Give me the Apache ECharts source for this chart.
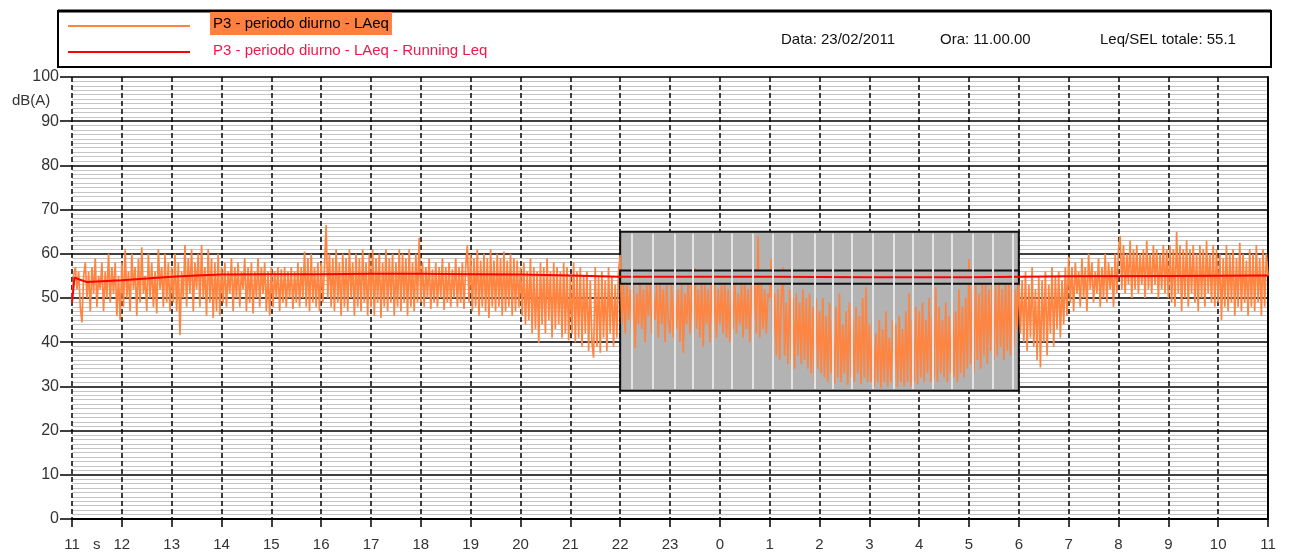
<!DOCTYPE html>
<html>
<head>
<meta charset="utf-8">
<script src="https://cdn.jsdelivr.net/npm/echarts@6/dist/echarts.min.js"></script>
<style>
  html, body { margin: 0; padding: 0; background: #fff; }
  #chart { width: 1292px; height: 553px; }
</style>
</head>
<body>
<div id="chart"></div>
<script>
// tick labels on the time axis (hours since 11:00)
const hourLabels = ['11', '12', '13', '14', '15', '16', '17', '18', '19', '20', '21', '22',
  '23', '0', '1', '2', '3', '4', '5', '6', '7', '8', '9', '10', '11']

// LAeq samples, one every 2 minutes from 11:00 (dB(A)), one row per hour
const laeqStepMin = 2
const laeq = [
  49, 55, 57, 52, 56, 48, 44.5, 55, 58, 50, 56, 47, 57, 51, 59, 48, 55, 52, 58, 47, 56, 50, 60, 49, 57, 51, 58, 46, 55, 45,
  58, 48, 61, 50, 56, 47, 60, 52, 57, 46, 59, 49, 61.5, 51, 55, 47, 60, 50, 58, 48, 56, 46.5, 61, 52, 57, 48, 60, 49, 58, 47,
  57, 49, 60, 47, 58, 41.6, 56, 50, 62, 48, 59, 51, 61, 47, 58, 52, 60, 48, 62, 50, 57, 46, 61, 49, 59, 45.5, 58, 47, 60, 46,
  57, 49, 58, 48, 56, 51, 59, 47, 57, 50, 58, 48, 56, 52, 59, 47, 57, 49, 58, 46.5, 56, 50, 59, 48, 57, 51, 58, 47, 56, 46,
  57, 48, 56, 50, 57, 47, 56.5, 49, 57, 48, 56, 50, 57, 47.5, 56, 49, 58, 48, 57, 50, 60.5, 48, 59, 47, 60, 49, 57, 48, 58, 47,
  58, 49, 57, 66.5, 50, 60, 48, 59, 47, 61, 49, 58, 46, 60, 48, 59, 47, 61, 50, 58, 46, 60, 48, 59, 47, 61, 49, 58, 46, 60,
  48, 61, 46, 59, 49, 60, 45.5, 58, 48, 61, 47, 59, 49, 60, 46, 58, 48, 61, 47, 60, 49, 59, 46, 61, 48, 58, 47, 60, 49, 63.6,
  49, 58, 48, 57, 50, 59, 47.5, 56.5, 49, 58, 48, 57, 50, 59, 47.3, 57, 49, 58, 48, 56.5, 50, 59, 48, 57, 49, 58, 47.5, 57, 62, 49,
  60, 47, 59, 48, 61, 46, 58.5, 48, 60, 47, 59, 45.5, 61, 48, 58.5, 47, 60, 48, 59, 46, 60.5, 47, 58.5, 48, 60, 46, 59, 47, 58.5, 48,
  57, 46, 58, 44, 56, 45, 59, 42, 57, 43, 56, 39.8, 58, 44, 57, 42, 59, 45, 56, 41, 58, 43, 57, 44, 56, 41, 58, 42, 57, 40.4,
  55, 42, 58, 40, 56, 41, 57, 39, 55, 42, 56, 38, 54, 40, 36.5, 57, 39, 55, 37.6, 56, 41, 54, 38, 57, 42, 55, 39, 53, 41, 56,
  59.7, 44, 53, 42, 54, 45, 52, 41, 53, 38.7, 51, 44, 54, 43, 52, 40, 53, 46, 54, 42, 51, 45, 53, 41, 54, 44, 52, 40, 53, 45,
  42, 53, 41, 54, 43, 52, 40, 53, 37.6, 51, 44, 54, 42, 53, 40, 56.8, 43, 52, 41, 54, 39, 53, 44, 52, 40, 54, 42, 53, 41, 52,
  44, 53, 42, 54, 41, 52, 40, 53, 43, 54, 42, 51, 44, 53, 41, 54, 43, 52, 40, 53, 44, 54, 42, 64, 41, 53, 43, 52, 42, 51,
  50, 58.9, 38, 51, 37, 52, 36, 50, 57, 37, 49, 35, 52, 36, 50, 34, 51, 37, 49, 35, 52, 36, 50, 34, 51, 33, 48, 31, 50, 34,
  47, 33, 50, 32, 46, 31, 49, 33, 45, 30.5, 48, 32, 51, 31, 44, 33, 47, 30.3, 49, 32, 45, 31, 48, 33, 46, 30.5, 50, 32, 52.5, 31,
  44, 31, 46, 30, 42, 31, 45, 29.6, 43, 31, 47, 30, 41, 31, 45, 30, 44, 29.8, 46, 31, 43, 30, 47, 31, 51.2, 30, 45, 31, 48, 30.5,
  47, 32, 49, 31, 45, 33, 50, 31, 46, 32, 52.5, 31, 48, 33, 45, 32, 49, 31, 46, 33, 50, 32, 47, 31, 52, 33, 48, 32, 50, 34,
  58.8, 35, 52, 33, 54, 36, 51, 34, 53, 37, 54, 35, 52, 38, 55, 36, 53, 37, 54, 39, 52, 36, 55, 38, 53, 37, 54, 39, 52, 43,
  55, 42, 54, 40, 56, 38, 53, 41, 57, 39, 52, 36, 55, 34.3, 54, 40, 56, 37, 53, 42, 57, 39, 55, 43, 56, 41, 54, 44, 57, 46,
  59.3, 49, 57, 47, 58, 51, 56, 48, 59, 50, 57, 47, 60, 52, 58, 49, 56, 51, 59, 48, 57, 50, 60, 49, 58, 52, 57, 48, 60, 51,
  61, 64, 52, 62, 51, 60, 53, 63, 50, 61, 52, 62, 51, 60, 53, 61, 50, 63, 52, 60, 51, 62, 53, 61, 50, 60, 52, 62, 51, 61,
  50, 62, 49, 61, 48, 65, 51, 62, 47, 61, 50, 63, 48, 61, 51, 62, 49, 60, 47, 62, 50, 61, 48, 63, 51, 60, 49, 62, 48, 61,
  49, 60, 45, 59, 48, 62, 47, 60, 49, 61, 46, 59, 48, 62.5, 47, 60, 49, 58.5, 46, 61, 48, 60, 47, 62, 49, 59, 46, 61, 48, 60,
  55
]

// running Leq (hours since 11:00 / dB(A))
const runningTime = [0, 0.05, 0.15, 0.3, 0.6, 1, 1.5, 2, 2.5, 3, 4, 5, 6, 7, 8, 9, 10, 11, 12, 14, 16, 18, 19, 20, 22, 24]
const runningLeq = [49, 54.6, 54.2, 53.6, 53.8, 54, 54.4, 54.8, 55.1, 55.3, 55.4, 55.4, 55.5, 55.5, 55.4, 55.3, 55.1, 54.8, 54.8, 54.8, 54.7, 54.7, 54.8, 54.9, 55.0, 55.1]

// night period box (22:00 - 6:00) and the Leq band drawn inside it
const nightHours = [11, 19]
const nightRange = [29, 65]
const leqBand = [53.2, 56.2]
const nightStripes = [11.24, 11.66, 12.1, 12.46, 12.86, 13.24, 13.67, 14.07, 14.45, 14.91,
  15.27, 15.65, 16.07, 16.48, 16.88, 17.28, 17.66, 18.08, 18.48, 18.88]

const FONT = 'Liberation Sans, Arial, sans-serif'
const chart = echarts.init(document.getElementById('chart'))

const laeqData = laeq.map((v, i) => [i * laeqStepMin / 60, v])
const runningData = runningTime.map((t, i) => [t, runningLeq[i]])

chart.setOption({
  animation: false,
  grid: { left: 72, right: 24, top: 77, bottom: 34 },
  xAxis: {
    type: 'value', min: 0, max: 24, interval: 1,
    axisLine: { show: true, lineStyle: { color: '#000', width: 2 } },
    axisTick: { show: true, length: 8, lineStyle: { color: '#000', width: 1.5 } },
    axisLabel: {
      fontFamily: FONT, fontSize: 15, color: '#333', margin: 18,
      formatter: v => hourLabels[v]
    },
    splitLine: { show: true, showMaxLine: false, lineStyle: { color: '#000', width: 1.5, type: [5, 3] } }
  },
  yAxis: [{
    type: 'value', min: 0, max: 100, interval: 10,
    axisLine: { show: false },
    axisTick: { show: true, length: 12, lineStyle: { color: '#000', width: 1.5 } },
    axisLabel: { fontFamily: FONT, fontSize: 16, color: '#333', margin: 13 },
    splitLine: { show: true, lineStyle: { color: '#000', width: 1.5 } },
    minorTick: { show: false, splitNumber: 10 },
    minorSplitLine: { show: true, lineStyle: { color: '#c4c4c4', width: 1 } }
  }, {
    type: 'value', min: 0, max: 100, position: 'right',
    axisLine: { show: true, lineStyle: { color: '#000', width: 2 } },
    axisTick: { show: false }, axisLabel: { show: false }, splitLine: { show: false }
  }],
  series: [
    {
      name: 'night', type: 'line', data: [], z: 1, silent: true,
      markArea: {
        silent: true,
        itemStyle: { color: '#b3b3b3', borderColor: '#111', borderWidth: 2 },
        data: [[{ xAxis: nightHours[0], yAxis: nightRange[1] }, { xAxis: nightHours[1], yAxis: nightRange[0] }]]
      },
      markLine: {
        silent: true, symbol: 'none', label: { show: false },
        lineStyle: { color: '#e4e4e4', width: 2, type: 'solid' },
        data: nightStripes.map(x => [{ coord: [x, nightRange[0] + 0.4] }, { coord: [x, nightRange[1] - 0.4] }])
      }
    },
    {
      name: 'P3 - periodo diurno - LAeq', type: 'line', data: laeqData, z: 2,
      showSymbol: false, sampling: 'none',
      lineStyle: { color: '#ff8440', width: 1.7 }
    },
    {
      name: 'band', type: 'custom', z: 3, silent: true,
      data: [[nightHours[0], nightHours[1], leqBand[0], leqBand[1]]],
      encode: { x: [0, 1], y: [2, 3] },
      renderItem: (params, api) => {
        const p1 = api.coord([api.value(0), api.value(3)])
        const p2 = api.coord([api.value(1), api.value(2)])
        return {
          type: 'rect',
          shape: { x: p1[0], y: p1[1], width: p2[0] - p1[0], height: p2[1] - p1[1] },
          style: { fill: '#b3b3b3', stroke: '#111', lineWidth: 2 }
        }
      }
    },
    {
      name: 'P3 - periodo diurno - LAeq - Running Leq', type: 'line', data: runningData, z: 4,
      showSymbol: false, lineStyle: { color: '#ff0000', width: 2 }
    }
  ],
  graphic: [
    { type: 'rect', shape: { x: 58, y: 11, width: 1213, height: 56 }, style: { fill: 'none', stroke: '#000', lineWidth: 2 } },
    { type: 'line', shape: { x1: 58, y1: 11, x2: 1271, y2: 11 }, style: { stroke: '#000', lineWidth: 3 } },
    { type: 'line', shape: { x1: 68, y1: 26, x2: 190, y2: 26 }, style: { stroke: '#ff8440', lineWidth: 2 } },
    { type: 'line', shape: { x1: 68, y1: 52, x2: 190, y2: 52 }, style: { stroke: '#ff0000', lineWidth: 2 } },
    {
      type: 'text', left: 210, top: 12,
      style: { text: 'P3 - periodo diurno - LAeq', font: '15px ' + FONT, fill: '#000', backgroundColor: '#ff8040', padding: [4, 3, 4, 3] }
    },
    {
      type: 'text', left: 213, top: 43,
      style: { text: 'P3 - periodo diurno - LAeq - Running Leq', font: '15px ' + FONT, fill: '#f0184a' }
    },
    { type: 'text', left: 781, top: 32, style: { text: 'Data: 23/02/2011', font: '15px ' + FONT, fill: '#111' } },
    { type: 'text', left: 940, top: 32, style: { text: 'Ora: 11.00.00', font: '15px ' + FONT, fill: '#111' } },
    { type: 'text', left: 1100, top: 32, style: { text: 'Leq/SEL totale: 55.1', font: '15px ' + FONT, fill: '#111' } },
    { type: 'text', left: 12, top: 93, style: { text: 'dB(A)', font: '15px ' + FONT, fill: '#333' } },
    { type: 'text', left: 93, top: 537, style: { text: 's', font: '15px ' + FONT, fill: '#333' } }
  ]
})
</script>
</body>
</html>
